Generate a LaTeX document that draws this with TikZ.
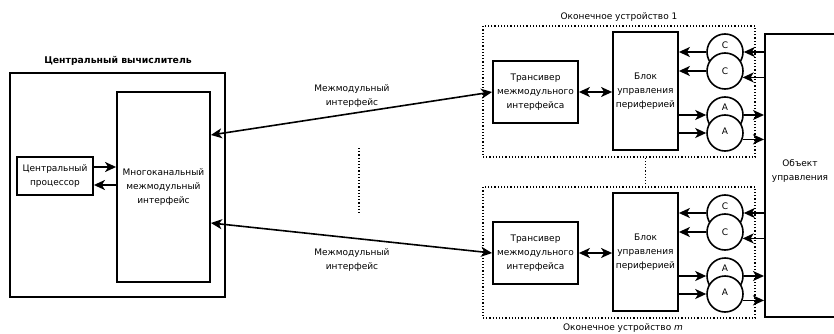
\documentclass[tikz,border=0pt]{standalone}
\usepackage{fontspec}
\setmainfont{DejaVu Sans}
\usetikzlibrary{arrows.meta,calc}
\begin{document}
\begin{tikzpicture}[x=1pt,y=-1pt,
  every node/.style={font=\fontsize{9}{14}\selectfont, align=center, inner sep=0pt},
  box/.style={draw, line width=1.8pt, fill=white},
  devbox/.style={draw, dotted, line width=1.2pt},
  circ/.style={draw, circle, line width=1.6pt, fill=white, minimum size=36pt},
  tip/.tip={Stealth[length=11pt,width=10pt,inset=3pt]},
  arr/.style={line width=1.6pt, -tip},
  darr/.style={line width=1.6pt, tip-tip}
]
\useasboundingbox (0,0) rectangle (834,334);
\clip (0,0) rectangle (834,334);

% central computer
\node[box, line width=2pt, minimum width=215pt, minimum height=224pt] (cc) at (117.5,185) {};
\node[font=\bfseries\fontsize{9.3}{11}\selectfont] (cct) at (118,61) {Центральный вычислитель};
\node[box, minimum width=93pt, minimum height=190pt] (mi) at (163.5,187) {Многоканальный\\межмодульный\\интерфейс};
\node[box, minimum width=76pt, minimum height=38pt] (cpu) at (55,176) {Центральный\\процессор};
\draw[arr] ([yshift=9pt]cpu.east) -- ([yshift=9pt]cpu.east -| mi.west);
\draw[arr] ([yshift=-9pt]cpu.east -| mi.west) -- ([yshift=-9pt]cpu.east);

% object
\node[box, minimum width=80pt, minimum height=283pt, anchor=north west] (obj) at (764,33) {};
\node (objt) at (800,171) {Объект\\управления};

% end devices
\foreach \s/\dy in {1/0, m/161}{
  \begin{scope}[shift={(0,\dy)}]
    \node[devbox, minimum width=272pt, minimum height=131pt] (dev\s) at (619,91.5) {};
    \node[box, minimum width=85pt, minimum height=62pt] (tr\s) at (535.5,92) {Трансивер\\межмодульного\\интерфейса};
    \node[box, minimum width=65pt, minimum height=118pt] (blk\s) at (645.5,91) {Блок\\управления\\периферией};
    \draw[darr] (tr\s.east) -- (tr\s.east -| blk\s.west);
    % C circles
    \node[circ] (cu\s) at (725,52) {};
    \node[circ] (cl\s) at (725,71) {};
    \node (cut\s) at (725,45) {C};
    \node (clt\s) at (725,71) {C};
    \draw[arr] (cu\s.west) -- (cu\s.west -| blk\s.east);
    \draw[arr] (cl\s.west) -- (cl\s.west -| blk\s.east);
    \draw[arr] (cu\s.east -| obj.west) -- (cu\s.east);
    \draw[arr] (cl\s.-20 -| obj.west) -- (cl\s.-20);
    % A circles
    \node[circ] (au\s) at (725,115) {};
    \node[circ] (al\s) at (725,133) {};
    \node (aut\s) at (725,107) {A};
    \node (alt\s) at (725,131) {A};
    \draw[arr] (au\s.west -| blk\s.east) -- (au\s.west);
    \draw[arr] (al\s.west -| blk\s.east) -- (al\s.west);
    \draw[arr] (au\s.east) -- (au\s.east -| obj.west);
    \draw[arr] (al\s.-20) -- (al\s.-20 -| obj.west);
  \end{scope}
}
\node (d1t) at (619,17) {Оконечное устройство 1};
\node (dmt) at (623,328) {Оконечное устройство \textit{m}};
\draw[dotted, line width=1.2pt] (blk1.center |- dev1.south) -- (blk1.center |- devm.north);

% interconnects
\draw[darr] ($(mi.east)+(0,-52)$) -- (tr1.west);
\draw[darr] ($(mi.east)+(0,36)$) -- (trm.west);
\node (l1) at (352,96) {Межмодульный\\интерфейс};
\node (l2) at (352,260) {Межмодульный\\интерфейс};
\coordinate (vd1) at (359,148);
\coordinate (vd2) at (359,213);
\draw[dotted, line width=1.2pt] (vd1) -- (vd2);
\end{tikzpicture}
\end{document}
